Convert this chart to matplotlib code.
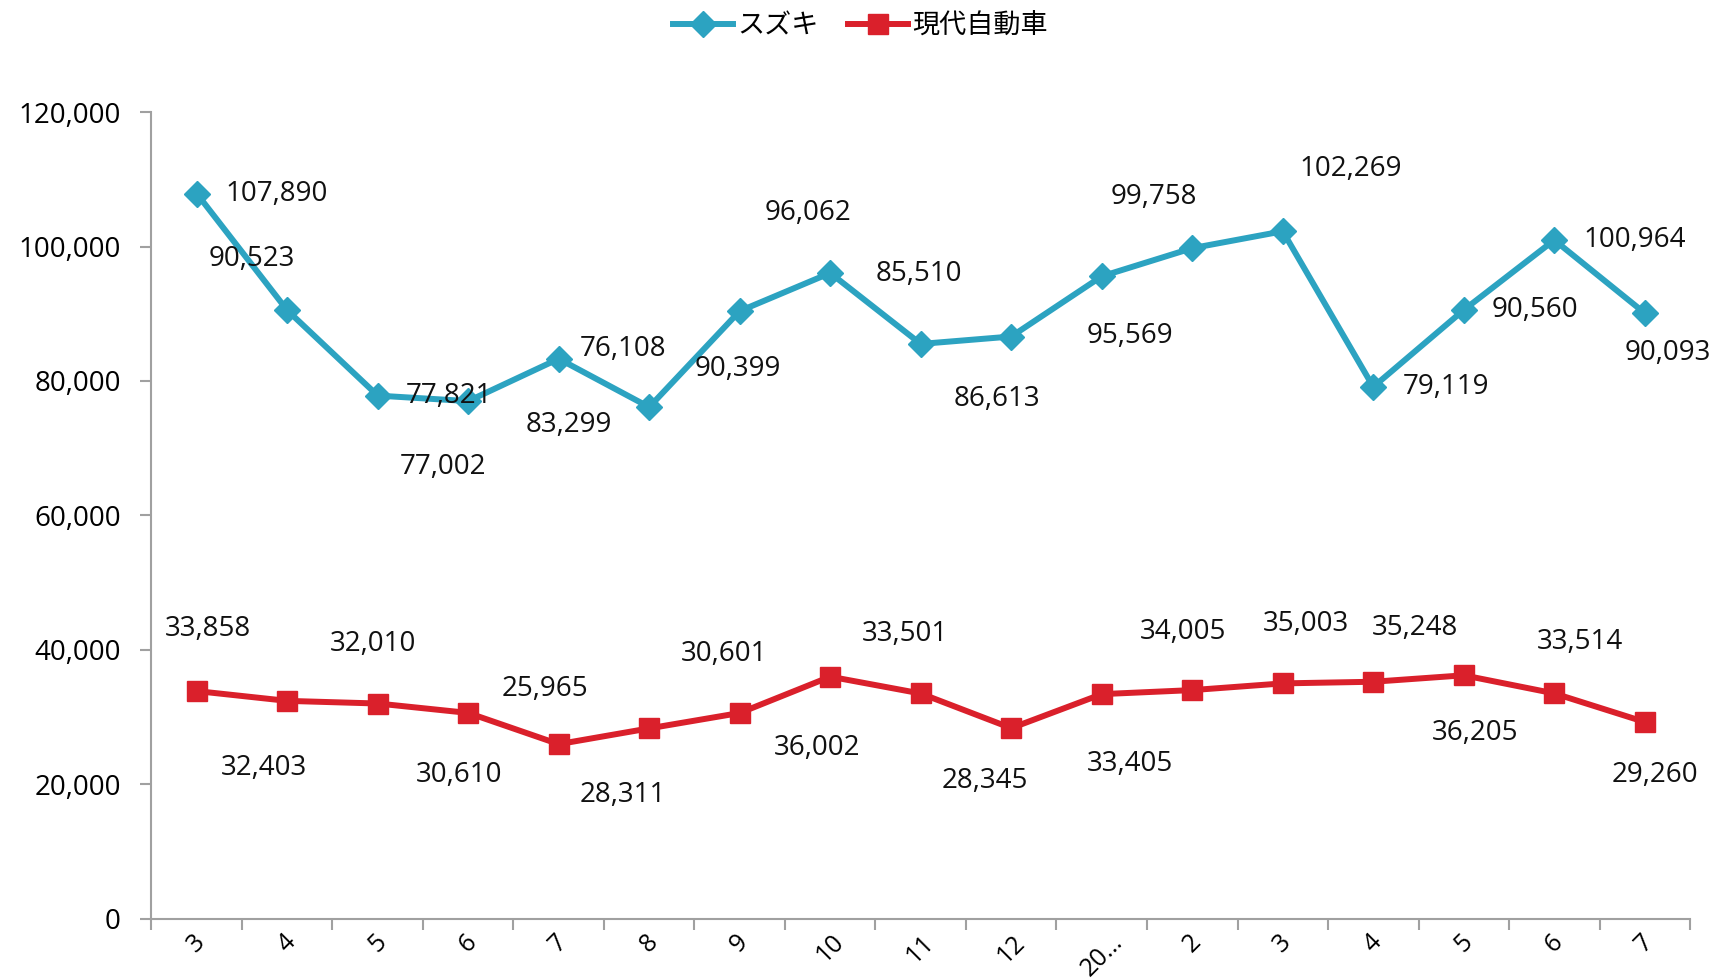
import matplotlib.pyplot as plt
import numpy as np

plt.rcParams['font.family'] = ['Open Sans', 'Noto Sans CJK JP', 'DejaVu Sans']

categories = ["3", "4", "5", "6", "7", "8", "9", "10", "11", "12",
              "20…", "2", "3", "4", "5", "6", "7"]

suzuki = [107890, 90523, 77821, 77002, 83299, 76108, 90399, 96062, 85510,
          86613, 95569, 99758, 102269, 79119, 90560, 100964, 90093]
hyundai = [33858, 32403, 32010, 30610, 25965, 28311, 30601, 36002, 33501,
           28345, 33405, 34005, 35003, 35248, 36205, 33514, 29260]

# label offsets (pixels in the 1568-wide preview, x right / y down)
suzukiOff = [(73, 0), (-32, -47), (65, 0), (-23, 60), (9, 60), (-24, -53),
             (-2, 53), (-20, -55), (-2, -64), (-13, 57), (26, 54), (-35, -47),
             (62, -57), (66, 0), (65, 0), (73, 0), (21, 36)]
hyundaiOff = [(10, -57), (-21, 61), (-4, -54), (-8, 57), (-13, -50), (-24, 61),
              (-14, -54), (-12, 65), (-14, -54), (-24, 48), (26, 64), (-8, -53),
              (21, -54), (38, -49), (10, 53), (23, -47), (9, 48)]

teal = "#2CA3C1"
red = "#DA202B"
grey = "#A0A0A0"

fig = plt.figure(figsize=(17.21, 9.80), dpi=100)
ax = fig.add_axes([0.088, 0.0626, 0.894, 0.823])

x = np.arange(len(categories))
ax.plot(x, suzuki, color=teal, lw=4.3, marker="D", ms=13, label="スズキ",
        zorder=3)
ax.plot(x, hyundai, color=red, lw=4.3, marker="s", ms=14, label="現代自動車",
        zorder=3)

scale = 1721 / 1568 * 0.72
for vals, offs in ((suzuki, suzukiOff), (hyundai, hyundaiOff)):
    for xi, v, (dx, dy) in zip(x, vals, offs):
        ax.annotate(f"{v:,}", (xi, v), xytext=(dx * scale, -dy * scale),
                    textcoords="offset points", ha="center", va="center",
                    fontsize=20, color="#111111", annotation_clip=False)

ax.set_xlim(-0.5, len(categories) - 0.5)
ax.set_ylim(0, 120000)
ax.set_yticks(np.arange(0, 120001, 20000))
ax.set_yticklabels([f"{t:,}" for t in range(0, 120001, 20000)], fontsize=20)
ax.set_xticks(x)
ax.set_xticklabels(categories, rotation=45, fontsize=18, ha="center",
                   va="top")
ax.set_xticks(np.arange(-0.5, len(categories)), minor=True)
ax.tick_params(axis="x", which="major", length=0, pad=8)
ax.tick_params(axis="x", which="minor", length=8, width=1.5, color=grey)
ax.tick_params(axis="y", length=8, width=1.5, color=grey, pad=14)

for s in ("top", "right"):
    ax.spines[s].set_visible(False)
for s in ("left", "bottom"):
    ax.spines[s].set_color(grey)
    ax.spines[s].set_linewidth(1.5)

leg = fig.legend(loc="upper center", bbox_to_anchor=(0.5, 1.012), ncol=2,
                 frameon=False, fontsize=19.5, handlelength=2.2,
                 columnspacing=1.1, handletextpad=0.15)

fig.savefig("out.png", dpi=100)
